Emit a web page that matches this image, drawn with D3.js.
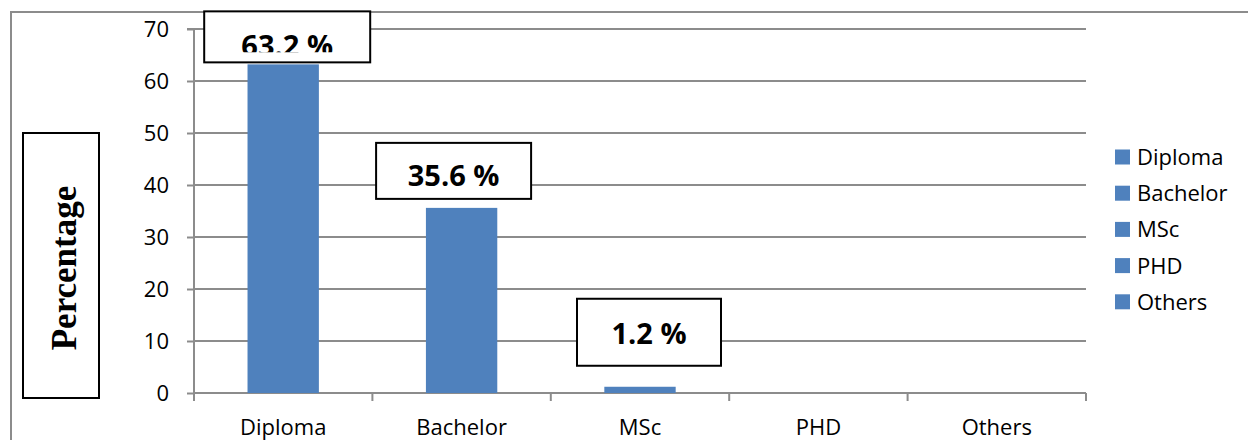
<!DOCTYPE html>
<html>
<head>
<meta charset="utf-8">
<script src="https://cdn.jsdelivr.net/npm/d3@7"></script>
<style>
  html, body { margin: 0; padding: 0; background: #fff; }
  svg { display: block; }
</style>
</head>
<body>
<svg id="chart" width="1248" height="440"></svg>
<script>
// ---- data ----
const categories = ["Diploma", "Bachelor", "MSc", "PHD", "Others"];
const values = [63.2, 35.6, 1.2, 0, 0];
const labelTexts = ["63.2 %", "35.6 %", "1.2 %", "", ""];
const yTicks = [0, 10, 20, 30, 40, 50, 60, 70];
const yTitle = "Percentage";

// ---- layout ----
const W = 1248, H = 440;
const plot = { left: 194, right: 1086, top: 29, bottom: 393 };
const barColor = "#4f81bd";
const gridColor = "#8c8c8c";
const sans = "'Open Sans', 'Noto Sans', sans-serif";

const svg = d3.select("#chart");

const x = d3.scaleBand()
  .domain(categories)
  .range([plot.left, plot.right])
  .paddingInner(0.6)
  .paddingOuter(0.3);

const y = d3.scaleLinear()
  .domain([0, 70])
  .range([plot.bottom, plot.top]);

// outer chart border (right / bottom edges fall outside the picture)
svg.append("rect")
  .attr("x", 11).attr("y", 12)
  .attr("width", W + 20).attr("height", H + 20)
  .attr("fill", "none")
  .attr("stroke", gridColor)
  .attr("stroke-width", 2);

// gridlines
svg.append("g")
  .selectAll("line")
  .data(yTicks.filter(d => d > 0))
  .join("line")
  .attr("x1", plot.left).attr("x2", plot.right)
  .attr("y1", d => y(d)).attr("y2", d => y(d))
  .attr("stroke", gridColor)
  .attr("stroke-width", 2);

// y axis
const yAxis = d3.axisLeft(y).tickValues(yTicks).tickSize(7).tickPadding(18).tickFormat(d3.format("d"));
const gy = svg.append("g").attr("transform", `translate(${plot.left},0)`).call(yAxis);
gy.select(".domain").attr("stroke", gridColor).attr("stroke-width", 2).attr("d", `M-7,${plot.top}H0V${plot.bottom + 8}`);
gy.selectAll(".tick line").attr("stroke", gridColor).attr("stroke-width", 2);
gy.selectAll(".tick text")
  .attr("font-family", sans).attr("font-size", 22).attr("fill", "#000")
  .attr("dy", "0.36em");

// x axis line
svg.append("line")
  .attr("x1", plot.left).attr("x2", plot.right)
  .attr("y1", plot.bottom).attr("y2", plot.bottom)
  .attr("stroke", gridColor).attr("stroke-width", 2);

// x tick marks at category boundaries
const boundaries = categories.map(c => x(c) + x.bandwidth() / 2 + x.step() / 2);
svg.append("g")
  .selectAll("line")
  .data(boundaries)
  .join("line")
  .attr("x1", d => d).attr("x2", d => d)
  .attr("y1", plot.bottom).attr("y2", plot.bottom + 8)
  .attr("stroke", gridColor).attr("stroke-width", 2);

// x labels
svg.append("g")
  .selectAll("text")
  .data(categories)
  .join("text")
  .attr("x", d => x(d) + x.bandwidth() / 2)
  .attr("y", 435)
  .attr("text-anchor", "middle")
  .attr("font-family", sans).attr("font-size", 22).attr("fill", "#000")
  .text(d => d);

// bars
svg.append("g")
  .selectAll("rect")
  .data(categories.map((c, i) => ({ c, v: values[i] })))
  .join("rect")
  .attr("x", d => x(d.c))
  .attr("width", x.bandwidth())
  .attr("y", d => y(d.v))
  .attr("height", d => y(0) - y(d.v))
  .attr("fill", barColor);

// data label boxes (manually placed, as in the original)
const boxLayout = [
  { dx: 4,  gap: 2,  w: 166, h: 51, textTop: 23, clip: 41 },
  { dx: -8, gap: 9,  w: 155, h: 56, textTop: 22 },
  { dx: 9,  gap: 21, w: 144, h: 67, textTop: 24 }
];
const defs = svg.append("defs");
const lg = svg.append("g");
boxLayout.forEach((b, i) => {
  const cx = x(categories[i]) + x.bandwidth() / 2 + b.dx;
  const bottom = y(values[i]) - b.gap;
  const top = bottom - b.h;
  lg.append("rect")
    .attr("x", cx - b.w / 2).attr("y", top)
    .attr("width", b.w).attr("height", b.h)
    .attr("fill", "#fff").attr("stroke", "#000").attr("stroke-width", 2);
  const t = lg.append("text")
    .attr("x", cx)
    .attr("y", top + b.textTop + 21.5)
    .attr("text-anchor", "middle")
    .attr("font-family", sans).attr("font-weight", "bold")
    .attr("font-size", 29).attr("fill", "#000")
    .text(labelTexts[i]);
  if (b.clip) {
    defs.append("clipPath").attr("id", "clip" + i)
      .append("rect").attr("x", cx - b.w / 2).attr("y", top).attr("width", b.w).attr("height", b.clip);
    t.attr("clip-path", `url(#clip${i})`);
  }
});

// y title box
svg.append("rect")
  .attr("x", 23).attr("y", 133)
  .attr("width", 76).attr("height", 265)
  .attr("fill", "#fff").attr("stroke", "#000").attr("stroke-width", 2);
svg.append("text")
  .attr("transform", "translate(76,268) rotate(-90)")
  .attr("text-anchor", "middle")
  .attr("font-family", "'Liberation Serif', 'Times New Roman', serif")
  .attr("font-weight", "bold")
  .attr("font-size", 35)
  .attr("fill", "#000")
  .text(yTitle);

// legend
const legend = svg.append("g").attr("transform", "translate(1115,157)");
const rows = legend.selectAll("g")
  .data(categories)
  .join("g")
  .attr("transform", (d, i) => `translate(0,${i * 36.2})`);
rows.append("rect")
  .attr("x", 0).attr("y", -7.5)
  .attr("width", 15).attr("height", 15)
  .attr("fill", barColor);
rows.append("text")
  .attr("x", 22).attr("y", 0).attr("dy", "0.36em")
  .attr("font-family", sans).attr("font-size", 22).attr("fill", "#000")
  .text(d => d);
</script>
</body>
</html>
